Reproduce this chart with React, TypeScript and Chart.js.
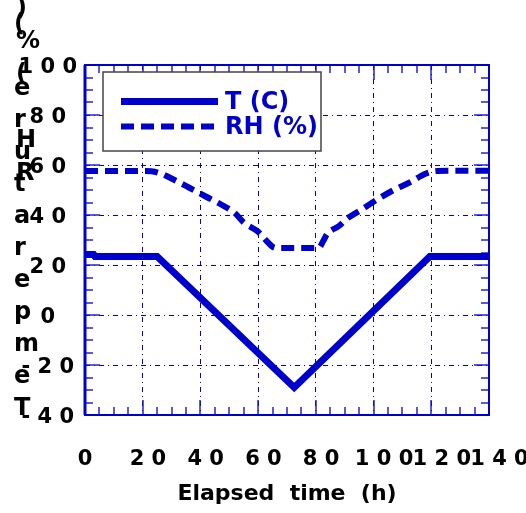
import React, { useEffect, useRef } from 'react';
import { Chart, registerables } from 'chart.js';

Chart.register(...registerables);

// Temperature profile (°C) against elapsed time (h)
const tHours = [0, 3, 3.5, 25, 72.5, 119.5, 140];
const tValues = [24.2, 24.2, 23.4, 23.4, -29, 23.4, 23.4];

// Relative humidity profile (%) against elapsed time (h)
const rhHours = [0, 10, 20, 23, 26, 31, 36, 42, 47, 52, 55, 60, 63, 66, 73, 81, 82.5, 84, 88, 91, 96, 101, 107, 113, 118, 122, 130, 140];
const rhValues = [57.6, 57.6, 57.6, 57.5, 56.7, 54, 51, 47.3, 44.3, 40.7, 37, 33.3, 29.5, 26.8, 26.8, 26.8, 29.5, 32.5, 35.6, 38.7, 42.3, 46, 50, 53.3, 56.5, 57.6, 57.7, 57.7];

const seriesLabels = ['T (C)', 'RH (%)'];
const xTitle = 'Elapsed  time  (h)';
const yTitleTemp = 'Temperature (C)';
const yTitleRh = 'RH (%)';

const X_MIN = 0;
const X_MAX = 140;
const Y_MIN = -40;
const Y_MAX = 100;
const MINOR_STEP = 5;
const MAJOR_STEP = 20;

const BLUE = '#0000CC';
const TICK_BLUE = 'rgba(20, 20, 210, 0.7)';
const FONT = 'DejaVu Sans';

const spaced = (v: number) => String(v).split('').join(' ');
const xLabel = (v: number) => {
  const s = String(v);
  return '\u2002'.repeat(s.length - 1) + spaced(v);
};

const gridColor = (ctx: any) =>
  ctx.tick && Math.round(ctx.tick.value) % MAJOR_STEP === 0 ? BLUE : 'transparent';

// Inward tick marks on all four sides plus the plot frame
const framePlugin = {
  id: 'frame',
  beforeDatasetsDraw(chart: any) {
    const { ctx, chartArea: a, scales } = chart;
    ctx.save();
    ctx.strokeStyle = TICK_BLUE;
    ctx.lineWidth = 2;
    ctx.beginPath();
    for (const t of scales.x.ticks) {
      const px = Math.round(scales.x.getPixelForValue(t.value));
      const len = Math.round(t.value) % MAJOR_STEP === 0 ? 15 : 8;
      ctx.moveTo(px, a.bottom);
      ctx.lineTo(px, a.bottom - len);
      ctx.moveTo(px, a.top);
      ctx.lineTo(px, a.top + len);
    }
    for (const t of scales.y.ticks) {
      const py = Math.round(scales.y.getPixelForValue(t.value));
      const len = Math.round(t.value) % MAJOR_STEP === 0 ? 15 : 8;
      ctx.moveTo(a.left, py);
      ctx.lineTo(a.left + len, py);
      ctx.moveTo(a.right, py);
      ctx.lineTo(a.right - len, py);
    }
    ctx.stroke();
    ctx.strokeStyle = BLUE;
    ctx.lineWidth = 2;
    ctx.strokeRect(a.left, a.top, a.right - a.left, a.bottom - a.top);
    ctx.lineWidth = 3;
    ctx.beginPath();
    ctx.moveTo(a.left, a.top);
    ctx.lineTo(a.left, a.bottom);
    ctx.stroke();
    ctx.restore();
  },
};

// Legend box in the upper-left of the plot
const legendPlugin = {
  id: 'boxLegend',
  afterDraw(chart: any) {
    const { ctx } = chart;
    const left = 103;
    const top = 72;
    const w = 218;
    const h = 79;
    ctx.save();
    ctx.fillStyle = '#ffffff';
    ctx.fillRect(left, top, w, h);
    ctx.strokeStyle = '#444444';
    ctx.lineWidth = 1.5;
    ctx.strokeRect(left, top, w, h);
    chart.data.datasets.forEach((ds: any, i: number) => {
      const y = 101.5 + i * 25;
      ctx.strokeStyle = ds.borderColor;
      ctx.lineWidth = ds.borderWidth;
      ctx.setLineDash(ds.borderDash || []);
      ctx.lineCap = 'butt';
      ctx.beginPath();
      ctx.moveTo(121, y);
      ctx.lineTo(218, y);
      ctx.stroke();
      ctx.setLineDash([]);
      ctx.fillStyle = ds.borderColor;
      ctx.font = `bold 24px "${FONT}"`;
      ctx.textAlign = 'left';
      ctx.textBaseline = 'middle';
      ctx.fillText(ds.label, 225, y + 1);
    });
    ctx.restore();
  },
};

// Vertical axis caption, letters stacked upright
const yTitlePlugin = {
  id: 'stackedYTitle',
  afterDraw(chart: any) {
    const { ctx } = chart;
    ctx.save();
    ctx.fillStyle = '#000000';
    ctx.font = `bold 24px "${FONT}"`;
    ctx.textAlign = 'left';
    ctx.textBaseline = 'alphabetic';
    yTitleTemp.split('').forEach((ch, i) => {
      if (ch !== ' ') ctx.fillText(ch, 14, 415 - i * 32);
    });
    yTitleRh.split('').forEach((ch, i) => {
      if (ch !== ' ') ctx.fillText(ch, 16, 180 - i * 33);
    });
    ctx.restore();
  },
};

export default function App() {
  const canvasRef = useRef<HTMLCanvasElement | null>(null);

  useEffect(() => {
    const canvas = canvasRef.current;
    if (!canvas) return;
    const tickFont = { family: FONT, size: 21, weight: 'bold' as const };
    const chart = new Chart(canvas, {
      type: 'line',
      data: {
        datasets: [
          {
            label: seriesLabels[0],
            data: tHours.map((x, i) => ({ x, y: tValues[i] })),
            borderColor: BLUE,
            backgroundColor: BLUE,
            borderWidth: 7,
            pointRadius: 0,
            tension: 0,
            borderCapStyle: 'butt',
            borderJoinStyle: 'miter',
          },
          {
            label: seriesLabels[1],
            data: rhHours.map((x, i) => ({ x, y: rhValues[i] })),
            borderColor: BLUE,
            backgroundColor: BLUE,
            borderWidth: 6,
            borderDash: [13, 7],
            pointRadius: 0,
            cubicInterpolationMode: 'monotone',
            borderCapStyle: 'butt',
          },
        ],
      },
      options: {
        responsive: false,
        animation: false,
        events: [],
        layout: { padding: { top: 65, right: 37, left: 0, bottom: 0 } },
        plugins: {
          legend: { display: false },
          tooltip: { enabled: false },
          title: { display: false },
        },
        scales: {
          x: {
            type: 'linear',
            min: X_MIN,
            max: X_MAX,
            ticks: {
              stepSize: MINOR_STEP,
              autoSkip: false,
              maxRotation: 0,
              padding: 32,
              color: '#000000',
              font: tickFont,
              callback: (v: any) => (Math.round(v) % MAJOR_STEP === 0 ? xLabel(Math.round(v)) : ''),
            },
            grid: { drawTicks: false, lineWidth: 1, color: gridColor },
            border: { display: false, dash: [5, 4, 1, 4] },
            title: {
              display: true,
              text: xTitle,
              color: '#000000',
              font: { family: FONT, size: 22, weight: 'bold' },
              padding: { top: 0, bottom: 6 },
            },
            afterFit: (s: any) => {
              s.height = 98;
              s.paddingLeft = 0;
              s.paddingRight = 0;
            },
          },
          y: {
            type: 'linear',
            min: Y_MIN,
            max: Y_MAX,
            ticks: {
              stepSize: MINOR_STEP,
              autoSkip: false,
              crossAlign: 'center',
              padding: 8,
              labelOffset: 3,
              color: '#000000',
              font: tickFont,
              callback: (v: any) => (Math.round(v) % MAJOR_STEP === 0 ? spaced(Math.round(v)) : ''),
            },
            grid: { drawTicks: false, lineWidth: 1, color: gridColor },
            border: { display: false, dash: [5, 4, 1, 4] },
            title: { display: false },
            afterFit: (s: any) => {
              s.width = 85;
              s.paddingTop = 0;
              s.paddingBottom = 0;
            },
          },
        },
      },
      plugins: [framePlugin, yTitlePlugin, legendPlugin],
    } as any);
    return () => chart.destroy();
  }, []);

  return (
    <div style={{ position: 'fixed', left: 0, top: 0, width: 526, height: 513, background: '#ffffff' }}>
      <canvas ref={canvasRef} width={526} height={513} style={{ display: 'block' }} />
    </div>
  );
}
